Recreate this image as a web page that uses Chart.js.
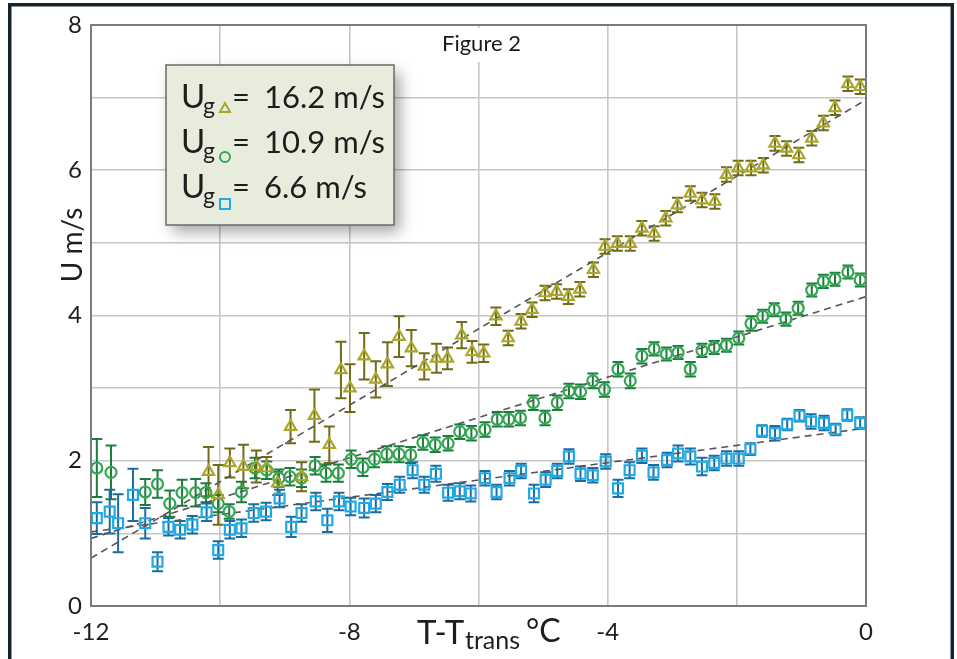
<!DOCTYPE html>
<html>
<head>
<meta charset="utf-8">
<script src="https://cdn.jsdelivr.net/npm/chart.js@4.4.1/dist/chart.umd.min.js"></script>
<style>
  html, body { margin: 0; padding: 0; background: #fff; }
  #wrap { width: 957px; height: 659px; position: relative; }
</style>
</head>
<body>
<div id="wrap"><canvas id="figChart" width="957" height="659"></canvas></div>
<script>
// Ug = 16.2 m/s (triangles)
const triX = [-10.18,-10.03,-9.85,-9.64,-9.44,-9.28,-9.11,-8.91,-8.74,-8.54,-8.31,-8.13,-7.99,-7.77,-7.59,-7.41,-7.23,-7.04,-6.84,-6.65,-6.48,-6.26,-6.10,-5.92,-5.73,-5.54,-5.34,-5.17,-4.97,-4.79,-4.61,-4.43,-4.22,-4.04,-3.85,-3.65,-3.47,-3.28,-3.10,-2.92,-2.72,-2.54,-2.34,-2.16,-1.98,-1.78,-1.59,-1.41,-1.23,-1.04,-0.84,-0.66,-0.48,-0.28,-0.09];
const triY = [1.85,1.53,1.97,1.92,1.92,1.90,1.69,2.47,1.78,2.62,2.22,3.25,3.00,3.44,3.12,3.33,3.71,3.55,3.30,3.41,3.41,3.73,3.50,3.48,3.99,3.69,3.92,4.08,4.31,4.33,4.26,4.36,4.63,4.95,4.99,4.99,5.20,5.13,5.34,5.52,5.68,5.59,5.57,5.94,6.03,6.03,6.07,6.37,6.30,6.21,6.44,6.65,6.86,7.19,7.15];
const triErr = [0.34,0.41,0.20,0.30,0.22,0.15,0.16,0.23,0.20,0.36,0.25,0.39,0.33,0.32,0.25,0.30,0.28,0.25,0.18,0.20,0.15,0.18,0.15,0.12,0.12,0.10,0.10,0.10,0.10,0.10,0.10,0.10,0.10,0.10,0.10,0.10,0.10,0.10,0.10,0.10,0.10,0.10,0.10,0.10,0.10,0.10,0.10,0.10,0.10,0.10,0.10,0.10,0.10,0.10,0.10];

// Ug = 10.9 m/s (circles)
const circX = [-11.91,-11.69,-11.16,-10.97,-10.78,-10.59,-10.38,-10.22,-10.03,-9.86,-9.67,-9.46,-9.28,-9.09,-8.92,-8.74,-8.53,-8.36,-8.17,-7.97,-7.79,-7.61,-7.42,-7.23,-7.05,-6.86,-6.67,-6.47,-6.29,-6.11,-5.90,-5.71,-5.53,-5.35,-5.15,-4.97,-4.78,-4.60,-4.42,-4.23,-4.05,-3.84,-3.65,-3.47,-3.28,-3.09,-2.91,-2.72,-2.54,-2.35,-2.16,-1.97,-1.78,-1.60,-1.42,-1.24,-1.05,-0.84,-0.66,-0.48,-0.28,-0.09];
const circY = [1.90,1.84,1.57,1.68,1.41,1.56,1.56,1.56,1.41,1.30,1.57,1.90,1.87,1.76,1.78,1.76,1.93,1.83,1.83,2.02,1.91,2.02,2.09,2.09,2.08,2.25,2.22,2.24,2.40,2.38,2.43,2.57,2.57,2.59,2.80,2.59,2.80,2.96,2.95,3.10,2.98,3.26,3.10,3.44,3.54,3.47,3.49,3.26,3.52,3.56,3.59,3.69,3.89,3.99,4.08,3.95,4.10,4.35,4.47,4.50,4.60,4.49];
const circErr = [0.40,0.37,0.18,0.19,0.18,0.18,0.19,0.13,0.12,0.10,0.14,0.14,0.12,0.12,0.12,0.12,0.12,0.12,0.12,0.12,0.12,0.11,0.11,0.11,0.11,0.10,0.10,0.10,0.10,0.10,0.10,0.10,0.10,0.10,0.10,0.10,0.10,0.10,0.10,0.10,0.10,0.10,0.10,0.10,0.09,0.09,0.09,0.10,0.09,0.09,0.09,0.09,0.10,0.09,0.09,0.09,0.09,0.09,0.09,0.09,0.09,0.09];

// Ug = 6.6 m/s (squares)
const sqX = [-11.91,-11.71,-11.58,-11.35,-11.16,-10.97,-10.80,-10.62,-10.43,-10.21,-10.03,-9.85,-9.67,-9.48,-9.29,-9.08,-8.90,-8.74,-8.52,-8.34,-8.16,-7.98,-7.77,-7.59,-7.41,-7.22,-7.02,-6.84,-6.66,-6.47,-6.29,-6.12,-5.90,-5.72,-5.52,-5.34,-5.14,-4.96,-4.78,-4.60,-4.42,-4.23,-4.03,-3.84,-3.66,-3.47,-3.29,-3.08,-2.91,-2.72,-2.54,-2.35,-2.16,-1.97,-1.79,-1.61,-1.41,-1.22,-1.03,-0.85,-0.65,-0.47,-0.29,-0.09];
const sqY = [1.21,1.30,1.14,1.53,1.14,0.61,1.09,1.05,1.12,1.29,0.77,1.05,1.07,1.28,1.30,1.48,1.09,1.28,1.44,1.18,1.44,1.37,1.35,1.41,1.57,1.67,1.87,1.67,1.82,1.56,1.58,1.55,1.76,1.57,1.76,1.86,1.55,1.74,1.86,2.06,1.82,1.80,1.99,1.62,1.87,2.07,1.84,2.01,2.10,2.06,1.92,1.97,2.03,2.03,2.16,2.41,2.38,2.50,2.62,2.54,2.52,2.43,2.63,2.52];
const sqErr = [0.22,0.30,0.40,0.36,0.21,0.13,0.12,0.12,0.12,0.12,0.12,0.12,0.12,0.12,0.12,0.12,0.14,0.12,0.12,0.16,0.12,0.12,0.13,0.12,0.11,0.11,0.11,0.11,0.11,0.11,0.11,0.11,0.10,0.10,0.10,0.10,0.12,0.10,0.10,0.10,0.10,0.10,0.10,0.12,0.11,0.10,0.10,0.10,0.11,0.11,0.12,0.10,0.10,0.10,0.08,0.08,0.10,0.08,0.08,0.10,0.10,0.08,0.08,0.08];

// dashed linear fits (end points)
const fitX = [-12, 0];
const fitTri = [0.66, 6.97];
const fitCirc = [0.93, 4.26];
const fitSq = [1.02, 2.45];

const xTickLabels = [-12, -8, -4, 0];
const yTickLabels = [0, 2, 4, 6, 8];
const legendSpeeds = ['16.2 m/s', '10.9 m/s', '6.6 m/s'];

const FONT = 'Lato, "Open Sans", sans-serif';
const colTri = '#aaa62a', barTri = '#716b18';
const colCirc = '#33a852', barCirc = '#1d7b3f';
const colSq = '#1eaae6', barSq = '#1e6c9f';

const pts = (xs, ys) => xs.map((v, i) => ({ x: v, y: ys[i] }));

const barSeries = [
  { xs: triX, ys: triY, err: triErr, color: barTri },
  { xs: circX, ys: circY, err: circErr, color: barCirc },
  { xs: sqX, ys: sqY, err: sqErr, color: barSq }
];

const errorBars = {
  id: 'errorBars',
  beforeDatasetsDraw(chart) {
    const { ctx, scales: { x, y } } = chart;
    ctx.save();
    ctx.lineWidth = 2;
    barSeries.forEach(s => {
      ctx.strokeStyle = s.color;
      s.xs.forEach((xv, i) => {
        const px = x.getPixelForValue(xv);
        const top = y.getPixelForValue(s.ys[i] + s.err[i]);
        const bot = y.getPixelForValue(s.ys[i] - s.err[i]);
        ctx.beginPath();
        ctx.moveTo(px, top); ctx.lineTo(px, bot);
        ctx.moveTo(px - 5.5, top); ctx.lineTo(px + 5.5, top);
        ctx.moveTo(px - 5.5, bot); ctx.lineTo(px + 5.5, bot);
        ctx.stroke();
      });
    });
    ctx.restore();
  }
};

function legendMarker(ctx, kind, cx, cy, color) {
  ctx.strokeStyle = color;
  ctx.lineWidth = 2;
  ctx.beginPath();
  if (kind === 'tri') {
    ctx.moveTo(cx, cy - 5); ctx.lineTo(cx + 5, cy + 4); ctx.lineTo(cx - 5, cy + 4); ctx.closePath();
  } else if (kind === 'circ') {
    ctx.arc(cx, cy, 5, 0, Math.PI * 2);
  } else {
    ctx.rect(cx - 5, cy - 5, 10, 10);
  }
  ctx.stroke();
}

const decorations = {
  id: 'decorations',
  afterDraw(chart) {
    const { ctx, chartArea: a } = chart;
    ctx.save();
    // plot frame
    ctx.strokeStyle = '#7b7b7b';
    ctx.lineWidth = 2;
    ctx.strokeRect(a.left, a.top, a.right - a.left, a.bottom - a.top);

    // outer page frame
    ctx.strokeStyle = '#14232e';
    ctx.lineWidth = 3.5;
    ctx.strokeRect(9.75, 4.75, 942.5, 700);

    // "Figure 2"
    ctx.fillStyle = '#fff';
    ctx.fillRect(430, 28, 100, 34);
    ctx.fillStyle = '#1a1a1a';
    ctx.font = '22px ' + FONT;
    ctx.textAlign = 'left';
    ctx.textBaseline = 'alphabetic';
    ctx.fillText('Figure 2', 442, 51);

    // legend box
    ctx.save();
    ctx.shadowColor = 'rgba(0,0,0,0.35)';
    ctx.shadowBlur = 14;
    ctx.shadowOffsetX = 6;
    ctx.shadowOffsetY = 7;
    ctx.fillStyle = '#e7ecdd';
    ctx.fillRect(166, 65, 228, 160);
    ctx.restore();
    ctx.strokeStyle = '#6a6a6a';
    ctx.lineWidth = 1.5;
    ctx.strokeRect(166, 65, 228, 160);

    const rows = [
      { base: 108, kind: 'tri', color: colTri, my: 108 },
      { base: 153, kind: 'circ', color: colCirc, my: 157 },
      { base: 198, kind: 'sq', color: colSq, my: 204 }
    ];
    rows.forEach((r, i) => {
      ctx.fillStyle = '#1e1e1e';
      ctx.font = '33px ' + FONT;
      ctx.fillText('U', 181, r.base);
      ctx.font = '23px ' + FONT;
      ctx.fillText('g', 203, r.base + 6);
      ctx.font = '31px ' + FONT;
      ctx.fillText('=', 232, r.base);
      ctx.fillText(legendSpeeds[i], 264, r.base);
      legendMarker(ctx, r.kind, 225, r.my, r.color);
    });

    // y axis title
    ctx.fillStyle = '#1e1e1e';
    ctx.save();
    ctx.translate(82, 245);
    ctx.rotate(-Math.PI / 2);
    ctx.font = '28px ' + FONT;
    ctx.textAlign = 'center';
    ctx.fillText('U m/s', 0, 0);
    ctx.restore();

    // x axis title
    ctx.textAlign = 'left';
    ctx.font = '33px ' + FONT;
    ctx.fillText('T-T', 417, 644);
    ctx.font = '25px ' + FONT;
    ctx.fillText('trans', 465, 649);
    ctx.font = '32px ' + FONT;
    ctx.fillText('\u00B0C', 526, 642);
    ctx.restore();
  }
};

const fitStyle = {
  type: 'line',
  borderColor: '#555',
  borderWidth: 1.6,
  borderDash: [7, 5],
  pointRadius: 0,
  fill: false,
  order: 10
};

const chart = new Chart(document.getElementById('figChart').getContext('2d'), {
  type: 'scatter',
  data: {
    datasets: [
      {
        label: 'Ug 16.2',
        data: pts(triX, triY),
        pointStyle: 'triangle',
        pointRadius: 6.5,
        borderColor: colTri,
        backgroundColor: 'rgba(255,255,255,0)',
        borderWidth: 2.2,
        order: 1
      },
      {
        label: 'Ug 10.9',
        data: pts(circX, circY),
        pointStyle: 'circle',
        pointRadius: 5.5,
        borderColor: colCirc,
        backgroundColor: 'rgba(255,255,255,0)',
        borderWidth: 2.2,
        order: 2
      },
      {
        label: 'Ug 6.6',
        data: pts(sqX, sqY),
        pointStyle: 'rect',
        pointRadius: 7,
        borderColor: colSq,
        backgroundColor: 'rgba(255,255,255,0)',
        borderWidth: 2.2,
        order: 3
      },
      Object.assign({ label: 'fit tri', data: pts(fitX, fitTri) }, fitStyle),
      Object.assign({ label: 'fit circ', data: pts(fitX, fitCirc) }, fitStyle),
      Object.assign({ label: 'fit sq', data: pts(fitX, fitSq) }, fitStyle)
    ]
  },
  options: {
    responsive: false,
    animation: false,
    layout: { padding: { left: 0, right: 91, top: 25, bottom: 0 } },
    scales: {
      x: {
        type: 'linear',
        min: -12,
        max: 0,
        afterFit: s => { s.height = 53; },
        border: { display: false },
        grid: { color: '#c6c6c6', lineWidth: 1.6, drawTicks: false },
        ticks: {
          stepSize: 2,
          padding: 12,
          color: '#1e1e1e',
          font: { family: FONT, size: 24 },
          maxRotation: 0,
          callback: v => xTickLabels.includes(v) ? String(v) : ''
        }
      },
      y: {
        min: 0,
        max: 8,
        afterFit: s => { s.width = 91; },
        border: { display: false },
        grid: { color: '#c6c6c6', lineWidth: 1.6, drawTicks: false },
        ticks: {
          stepSize: 1,
          padding: 9,
          color: '#1e1e1e',
          font: { family: FONT, size: 24 },
          callback: v => yTickLabels.includes(v) ? String(v) : ''
        }
      }
    },
    plugins: {
      legend: { display: false },
      tooltip: { enabled: false }
    }
  },
  plugins: [errorBars, decorations]
});
</script>
</body>
</html>
